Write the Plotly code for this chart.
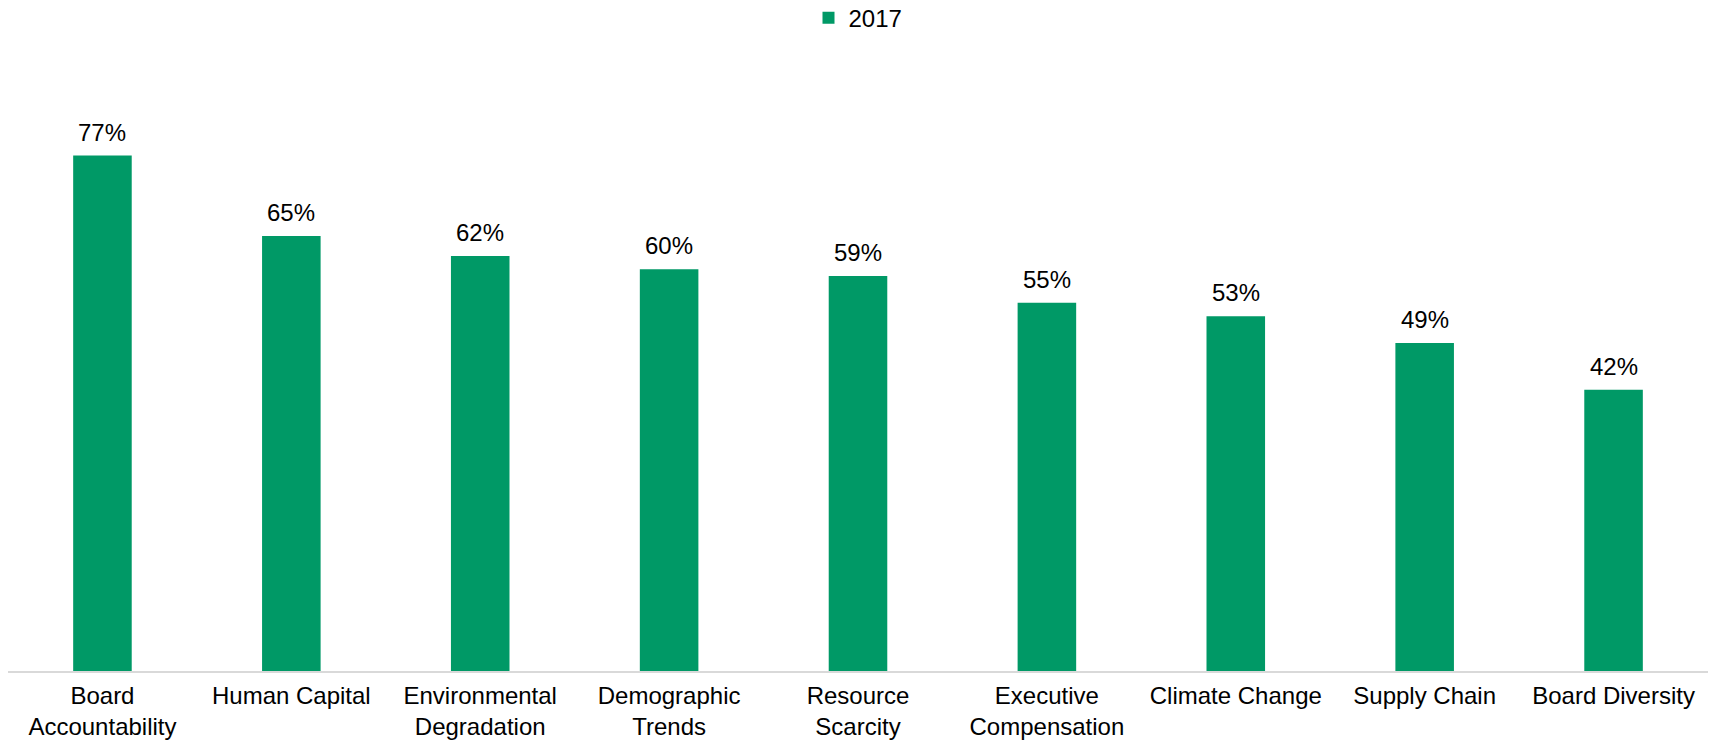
import plotly.graph_objects as go

categories = ["Board<br>Accountability", "Human Capital", "Environmental<br>Degradation",
              "Demographic<br>Trends", "Resource<br>Scarcity", "Executive<br>Compensation",
              "Climate Change", "Supply Chain", "Board Diversity"]
values_2017 = [77, 65, 62, 60, 59, 55, 53, 49, 42]
series_name = "2017"

BAR_COLOR = "#009966"
FONT = "Liberation Sans, Arial, sans-serif"

fig = go.Figure(go.Bar(
    x=categories, y=values_2017, name=series_name,
    marker=dict(color=BAR_COLOR, line=dict(width=0)),
))

# value labels above each bar
for cat, v in zip(categories, values_2017):
    fig.add_annotation(x=cat, y=v, text=f"{v}%", showarrow=False,
                       yanchor="bottom", yshift=8,
                       font=dict(family=FONT, size=24, color="#000000"))

fig.update_layout(
    width=1711, height=741,
    margin=dict(l=8, r=3, t=102, b=70, autoexpand=False),
    paper_bgcolor="white", plot_bgcolor="white",
    font=dict(family=FONT, size=24, color="#000000"),
    bargap=0.69,
    showlegend=True,
    legend=dict(orientation="h", x=0.5, xanchor="center", y=1.187, yanchor="top",
                font=dict(size=24), itemwidth=30),
    xaxis=dict(showline=True, linecolor="#d9d9d9", linewidth=2, ticks="",
               tickfont=dict(size=24), showgrid=False, ticklabelstandoff=2,
               automargin=False),
    yaxis=dict(range=[0, 85], visible=False, showgrid=False),
)

fig.write_html("out.html")
